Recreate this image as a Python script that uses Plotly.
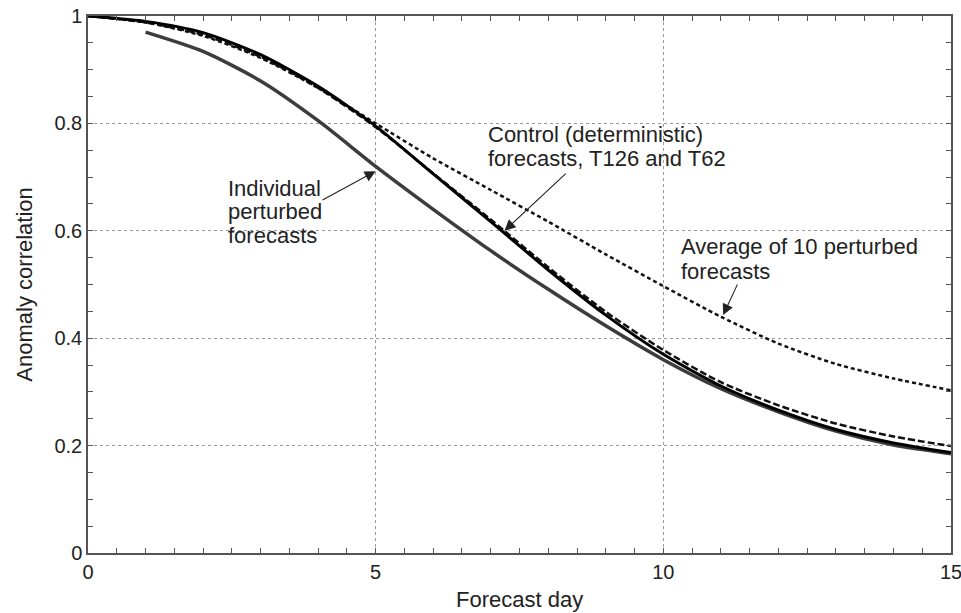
import plotly.graph_objects as go

# ---- data ----
days = list(range(16))
control_t126 = [1.0, 0.99, 0.969, 0.928, 0.869, 0.795, 0.706, 0.617, 0.527, 0.443, 0.37, 0.311, 0.266, 0.23, 0.205, 0.187]
control_t62 = [1.0, 0.988, 0.965, 0.924, 0.866, 0.793, 0.707, 0.621, 0.532, 0.449, 0.378, 0.318, 0.275, 0.241, 0.217, 0.199]
avg10 = [1.0, 0.988, 0.963, 0.922, 0.866, 0.80, 0.735, 0.676, 0.617, 0.556, 0.497, 0.44, 0.39, 0.352, 0.325, 0.303]
ind_days = list(range(1, 16))
individual = [0.97, 0.934, 0.879, 0.805, 0.72, 0.64, 0.563, 0.491, 0.423, 0.36, 0.306, 0.263, 0.227, 0.201, 0.185]

x_tickvals = [0, 5, 10, 15]
x_ticktext = ["0", "5", "10", "15"]
y_tickvals = [0, 0.2, 0.4, 0.6, 0.8, 1.0]
y_ticktext = ["0", "0.2", "0.4", "0.6", "0.8", "1"]

FONT = "Liberation Sans, Arial, Helvetica, sans-serif"
SM = 0.7

fig = go.Figure()
fig.add_trace(go.Scatter(x=ind_days, y=individual, mode="lines",
                         line=dict(color="#3c3c3c", width=3.5, shape="spline", smoothing=SM),
                         name="Individual perturbed"))
fig.add_trace(go.Scatter(x=days, y=avg10, mode="lines",
                         line=dict(color="#111111", width=2.5, dash="4px,3px", shape="spline", smoothing=SM),
                         name="Average of 10"))
fig.add_trace(go.Scatter(x=days, y=control_t62, mode="lines",
                         line=dict(color="#111111", width=2.5, dash="7px,3px", shape="spline", smoothing=SM),
                         name="Control T62"))
fig.add_trace(go.Scatter(x=days, y=control_t126, mode="lines",
                         line=dict(color="#000000", width=3, shape="spline", smoothing=SM),
                         name="Control T126"))

axis_common = dict(
    showline=True, linecolor="#555555", linewidth=1.5, mirror="allticks",
    ticks="inside", ticklen=5, tickcolor="#555555", tickwidth=1,
    showgrid=True, gridcolor="#9a9a9a", gridwidth=1, griddash="dot",
    zeroline=False, automargin=False, ticklabeloverflow="allow",
    tickfont=dict(family=FONT, size=20, color="#222222"),
)

fig.update_xaxes(range=[0, 15], tickvals=x_tickvals, ticktext=x_ticktext,
                 minor=dict(dtick=0.5, ticks="inside", ticklen=5, tickcolor="#555555", showgrid=False),
                 **axis_common)
fig.update_yaxes(range=[0, 1], tickvals=y_tickvals, ticktext=y_ticktext,
                 minor=dict(dtick=0.05, ticks="inside", ticklen=5, tickcolor="#555555", showgrid=False),
                 **axis_common)

ann_font = dict(family=FONT, size=22, color="#222222")
texts = [
    ("Individual", 2.40, 0.679),
    ("perturbed", 2.40, 0.636),
    ("forecasts", 2.40, 0.591),
    ("Control (deterministic)", 6.92, 0.779),
    ("forecasts, T126 and T62", 6.92, 0.734),
    ("Average of 10 perturbed", 10.28, 0.570),
    ("forecasts", 10.28, 0.525),
]
for t, xx, yy in texts:
    fig.add_annotation(x=xx, y=yy, text=t, showarrow=False, xanchor="left",
                       yanchor="middle", align="left", font=ann_font)

arrows = [
    # head x, head y, tail x, tail y
    (5.0, 0.711, 4.05, 0.656),
    (7.24, 0.600, 8.33, 0.709),
    (11.04, 0.443, 11.30, 0.503),
]
for hx, hy, tx, ty in arrows:
    fig.add_annotation(x=hx, y=hy, ax=tx, ay=ty, xref="x", yref="y", axref="x", ayref="y",
                       text="", showarrow=True, arrowhead=2, arrowsize=2.0, arrowwidth=1.1,
                       arrowcolor="#222222", standoff=0)

# axis titles
fig.add_annotation(x=0.5, y=-0.0875, xref="paper", yref="paper", text="Forecast day",
                   showarrow=False, xanchor="center", yanchor="middle",
                   font=dict(family=FONT, size=22, color="#222222"))
fig.add_annotation(x=-0.074, y=0.5, xref="paper", yref="paper", text="Anomaly correlation",
                   showarrow=False, xanchor="center", yanchor="middle", textangle=-90,
                   font=dict(family=FONT, size=22, color="#222222"))

fig.update_layout(
    width=961, height=613,
    margin=dict(l=88, r=10, t=16, b=60),
    paper_bgcolor="white", plot_bgcolor="white",
    showlegend=False,
    font=dict(family=FONT, color="#222222"),
)

fig.write_html("out.html")
